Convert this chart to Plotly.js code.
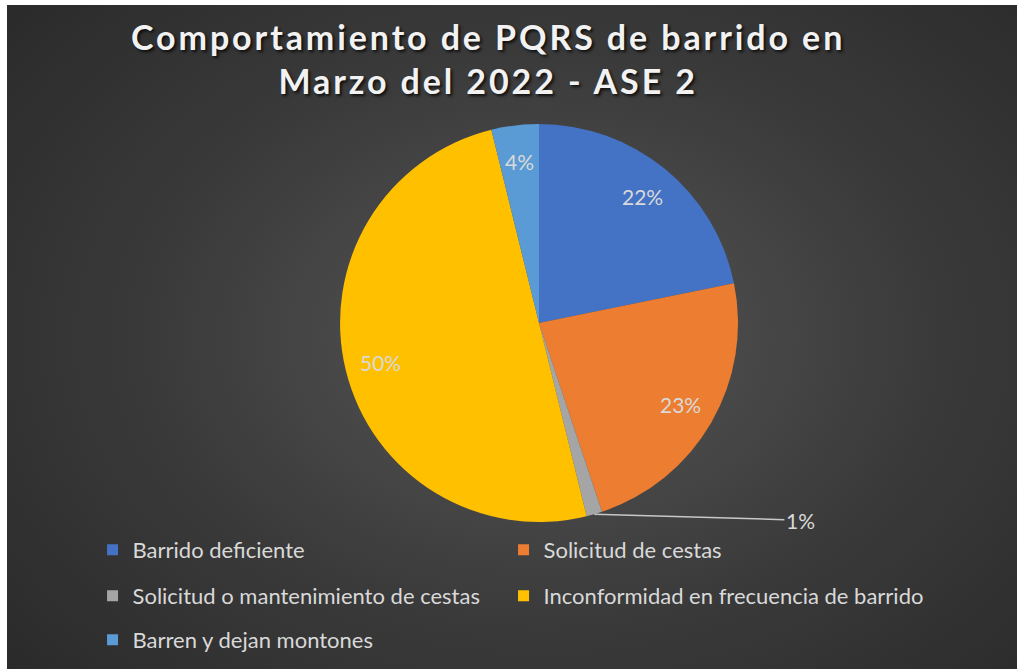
<!DOCTYPE html>
<html><head><meta charset="utf-8">
<script src="https://cdn.plot.ly/plotly-3.0.1.min.js"></script>
<style>
html,body{margin:0;padding:0;background:#fff;width:1017px;height:669px;overflow:hidden;}
#bg{position:absolute;left:7px;top:5px;width:1010px;height:664px;background:radial-gradient(ellipse 70% 78% at 53% 50%, #575757 0%, #3a3a3a 55%, #2a2a2a 100%);}
#chart{position:absolute;left:0;top:0;width:1017px;height:669px;}
.gtitle{letter-spacing:2.9px;}
</style></head><body>
<div id="bg"></div><div id="chart"></div>
<script>
const categories = ["Barrido deficiente","Solicitud de cestas","Solicitud o mantenimiento de cestas","Inconformidad en frecuencia de barrido","Barren y dejan montones"];
const values = [17, 18, 1, 39, 3];
const colors = ["#4472C4","#ED7D31","#A5A5A5","#FFC000","#5B9BD5"];
const titleText = "Comportamiento de PQRS de barrido en<br>Marzo del 2022 - ASE 2";

const W = 1017, H = 669;
const domX = [(539-199)/W, (539+199)/W];
const domY = [(346-199)/H, (346+199)/H];
const outsideIdx = 2;
const labelRadius = 0.82;
const total = values.reduce((a,b)=>a+b,0);

// legend grid: 2 columns, 3 rows (layout only)
const legendColX = [0.091, 0.091 + 411/W];
const legendRowY = [1-550/H, 1-596/H, 1-640/H];

const labelFont = {family:"Lato, 'Liberation Sans', sans-serif", size:21, color:"#d9d9d9"};
const legendFont = {family:"Lato, 'Liberation Sans', sans-serif", size:22, color:"#d9d9d9"};

const pie = {
  type:"pie", labels:categories, values:values, sort:false, direction:"clockwise", rotation:0,
  marker:{colors:colors, line:{width:0}},
  textinfo:"none",
  domain:{x:domX, y:domY}, showlegend:false,
  hoverinfo:"label+value+percent"
};

const legendId = i => i === 0 ? "legend" : "legend" + (i+1);

const legendTraces = categories.map((c,i)=>({
  type:"scatter", x:[null], y:[null], mode:"markers", name:c,
  marker:{symbol:"square", size:11, color:colors[i]},
  legend:legendId(i), hoverinfo:"skip", showlegend:true
}));

// data labels, positioned from the data (slice mid-angles)
const cx = (domX[0]+domX[1])/2, cy = (domY[0]+domY[1])/2;
const rx = (domX[1]-domX[0])/2, ry = (domY[1]-domY[0])/2;
const annotations = [];
let cum = 0;
values.forEach((v,i)=>{
  const mid = (cum + v/2)/total * 2*Math.PI;
  cum += v;
  const txt = Math.round(v/total*100) + "%";
  if (i === outsideIdx) {
    annotations.push({xref:"paper", yref:"paper",
      x: cx + rx*Math.sin(mid), y: cy + ry*Math.cos(mid), text: txt,
      showarrow:true, arrowhead:0, arrowwidth:1.5, arrowcolor:"#c8c8c8",
      ax:206, ay:6, standoff:0, font:labelFont});
  } else {
    annotations.push({xref:"paper", yref:"paper", showarrow:false,
      x: cx + labelRadius*rx*Math.sin(mid), y: cy + labelRadius*ry*Math.cos(mid),
      xanchor:"center", yanchor:"middle", text: txt, font:labelFont});
  }
});

const layout = {
  width:W, height:H, margin:{l:0,r:0,t:0,b:0},
  paper_bgcolor:"rgba(0,0,0,0)", plot_bgcolor:"rgba(0,0,0,0)",
  title:{text:titleText, x:0.48, xanchor:"center", y:0.925, yanchor:"middle", yref:"container",
    font:{family:"Lato, 'Liberation Sans', sans-serif", size:34, weight:700, color:"#f2f2f2",
      shadow:"2px 2px 3px rgba(0,0,0,0.75)"}},
  xaxis:{visible:false}, yaxis:{visible:false},
  annotations:annotations
};
categories.forEach((c,i)=>{
  layout[legendId(i)] = {orientation:"v", xanchor:"left", yanchor:"middle",
    x:legendColX[i % 2], y:legendRowY[Math.floor(i/2)],
    font:legendFont, bgcolor:"rgba(0,0,0,0)", itemclick:false, itemdoubleclick:false};
});

Plotly.newPlot("chart", [pie].concat(legendTraces), layout, {displayModeBar:false});
</script>
</body></html>
